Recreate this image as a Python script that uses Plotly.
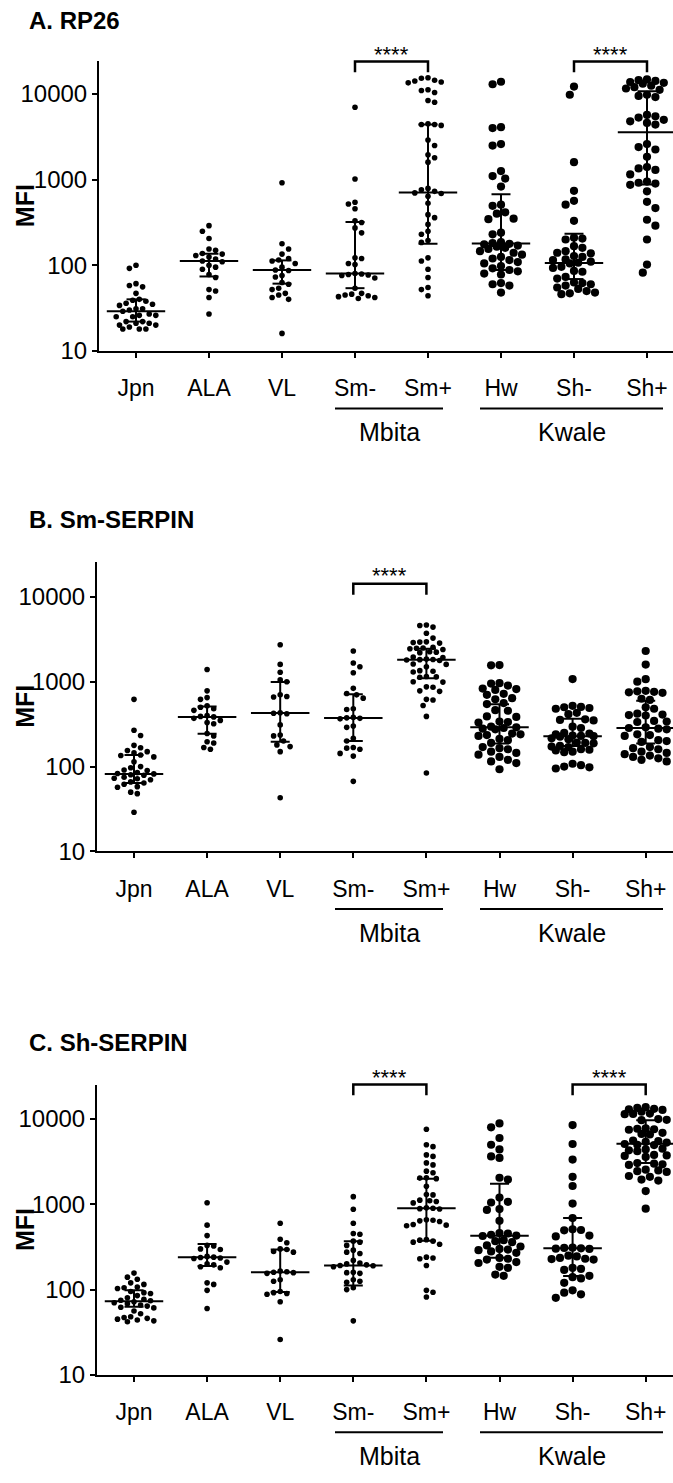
import numpy as np
import plotly.graph_objects as go

W, H = 673, 1483
FONT = "Liberation Sans, Arial, sans-serif"

categories = ["Jpn", "ALA", "VL", "Sm-", "Sm+", "Hw", "Sh-", "Sh+"]
panel_titles = ["A. RP26", "B. Sm-SERPIN", "C. Sh-SERPIN"]
ytick_vals = [10, 100, 1000, 10000]
ytick_text = ["10", "100", "1000", "10000"]

# ---------------- Panel A: RP26 ----------------
a_jpn = [100, 92, 61, 58, 56, 47, 40, 39, 38, 36, 35, 34, 31, 31, 30, 29, 27, 26, 26, 25, 25, 22, 22, 21, 21, 20, 20, 19, 18, 18, 18]
a_ala = [290, 250, 205, 155, 150, 137, 135, 130, 125, 118, 112, 110, 100, 95, 90, 78, 72, 52, 50, 42, 27]
a_vl = [920, 178, 155, 135, 120, 115, 112, 105, 95, 88, 87, 76, 73, 63, 60, 54, 52, 47, 45, 42, 40, 16]
a_smn = [7000, 1017, 545, 520, 457, 330, 316, 273, 239, 122, 120, 105, 102, 80, 79, 78, 77, 76, 71, 54, 47, 46, 45, 44, 43, 42, 41]
a_smp = [15500, 15300, 14500, 14200, 13800, 13500, 11200, 11000, 10400, 8400, 8000, 4500, 4400, 4400, 4300,
         2900, 2500, 1950, 1800, 1600, 790, 760, 730, 700, 690, 640, 530, 390, 360, 300, 250, 230, 195, 185,
         122, 112, 90, 72, 55, 52, 44]
a_hw = [13900, 13000, 4100, 4000, 2600, 2500, 1260, 1100, 1030, 830, 510, 495, 415, 400, 350, 345, 240, 230,
        186, 182, 178, 175, 170, 165, 160, 155, 146, 140, 133, 125, 120, 115, 109, 105, 98, 92, 88, 85, 80, 78,
        62, 60, 58, 48]
a_shn = [12200, 9800, 1600, 740, 565, 510, 330, 210, 205, 200, 167, 160, 146, 140, 138, 128, 125, 117, 115, 110,
         107, 105, 96, 93, 86, 84, 73, 70, 63, 62, 60, 58, 55, 53, 50, 48, 47, 46]
a_shp = [14800, 14500, 14200, 13800, 13500, 13200, 12500, 12000, 11600, 11200, 9800, 9500, 9200, 5700, 5500, 5300,
         5000, 4800, 4600, 4400, 2600, 2400, 2250, 1850, 1400, 1350, 1300, 1150, 950, 920, 900, 870, 730, 550, 465,
         340, 290, 200, 102, 82]
a_median = [29, 112, 88, 80, 706, 180, 106, 3570]
a_q1 = [22, 74, 61, 54, 178, 88, 69, 880]
a_q3 = [40, 136, 114, 320, 4400, 676, 234, 10750]

# ---------------- Panel B: Sm-SERPIN ----------------
b_jpn = [620, 268, 232, 178, 167, 155, 150, 145, 137, 135, 130, 114, 100, 97, 91, 90, 85, 83, 82, 80, 79, 75, 73,
         72, 70, 66, 64, 62, 58, 57, 50, 48, 29]
b_ala = [1390, 780, 650, 620, 520, 500, 480, 460, 400, 390, 385, 370, 350, 330, 320, 245, 230, 196, 190, 168, 160]
b_vl = [2730, 1600, 1290, 1050, 1000, 700, 670, 660, 430, 425, 420, 310, 235, 230, 200, 180, 172, 150, 43]
b_smn = [2300, 1660, 1500, 1275, 835, 725, 700, 640, 480, 470, 380, 375, 370, 365, 300, 290, 215, 200, 168, 165,
         160, 143, 133, 67]
b_smp = [4650, 4600, 4400, 3730, 3265, 2950, 2930, 2900, 2850, 2550, 2500, 2480, 2450, 2400, 2250, 2230, 2200, 1950,
         1930, 1850, 1830, 1820, 1800, 1780, 1620, 1600, 1500, 1350, 1330, 1300, 1150, 1140, 1130, 1000, 990, 870,
         860, 780, 770, 620, 610, 525, 390, 84]
b_hw = [1570, 1560, 960, 950, 900, 830, 820, 800, 720, 700, 640, 620, 560, 545, 462, 455, 390, 385, 340, 335, 330,
        295, 290, 285, 280, 275, 245, 240, 235, 230, 212, 205, 190, 170, 165, 160, 150, 145, 138, 130, 120, 115,
        110, 93]
b_shn = [1075, 520, 505, 500, 490, 480, 430, 415, 360, 355, 350, 295, 285, 250, 245, 240, 232, 230, 228, 225, 215,
         210, 192, 190, 188, 175, 172, 170, 160, 158, 155, 150, 148, 108, 104, 100, 98, 95]
b_shp = [2300, 1590, 1070, 1000, 780, 770, 760, 750, 740, 630, 610, 500, 480, 420, 410, 405, 400, 345, 340, 335,
         290, 285, 280, 275, 240, 235, 230, 205, 200, 195, 170, 165, 160, 150, 145, 140, 135, 130, 125, 120, 115]
b_median = [82, 384, 427, 373, 1820, 290, 228, 285]
b_q1 = [64, 243, 196, 200, 1100, 187, 175, 187]
b_q3 = [137, 511, 990, 711, 2450, 543, 365, 596]

# ---------------- Panel C: Sh-SERPIN ----------------
c_jpn = [156, 140, 132, 120, 115, 107, 105, 103, 95, 92, 90, 85, 80, 77, 75, 74, 72, 70, 68, 66, 64, 62, 61, 56,
         52, 48, 47, 46, 45, 44, 43, 42]
c_ala = [1045, 570, 430, 330, 325, 300, 295, 245, 240, 238, 235, 232, 210, 200, 195, 185, 180, 120, 115, 98, 60]
c_vl = [600, 390, 355, 300, 295, 280, 275, 165, 162, 160, 158, 155, 130, 125, 95, 92, 90, 88, 72, 26]
c_smn = [1230, 875, 600, 455, 445, 370, 360, 330, 290, 275, 265, 220, 205, 200, 195, 192, 190, 185, 160, 158, 155,
         130, 125, 122, 105, 100, 43]
c_smp = [7600, 5000, 4750, 3800, 3650, 3060, 2900, 2450, 2350, 2050, 2030, 2000, 1630, 1300, 1290, 1120, 1100,
         1080, 1040, 910, 900, 890, 880, 660, 650, 640, 630, 580, 570, 560, 385, 380, 370, 360, 340, 240, 235, 230,
         192, 98, 93, 82]
c_hw = [8900, 8000, 6000, 5000, 4400, 3650, 3500, 2050, 1950, 1200, 1070, 1050, 880, 860, 640, 460, 455, 440, 430,
        425, 380, 370, 360, 330, 320, 300, 295, 290, 280, 270, 235, 230, 225, 210, 205, 185, 180, 150, 145]
c_shn = [8500, 5100, 3350, 2100, 1640, 1020, 690, 510, 500, 495, 430, 420, 310, 308, 305, 302, 300, 250, 245, 235,
         230, 228, 225, 180, 175, 170, 145, 140, 135, 120, 98, 92, 88, 80]
c_shp = [13800, 13500, 13200, 13000, 12800, 12200, 11600, 11500, 11400, 10000, 9800, 9700, 7800, 7700, 7600, 7500,
         6900, 6700, 6600, 5600, 5500, 5400, 5300, 5100, 5000, 4950, 4500, 4400, 4300, 4200, 3800, 3750, 3700, 3600,
         3050, 3000, 2950, 2900, 2550, 2500, 2450, 2400, 2150, 2100, 1950, 1900, 1430, 890]
c_median = [73, 240, 160, 192, 897, 428, 305, 5120]
c_q1 = [63, 189, 94, 112, 375, 236, 144, 3050]
c_q3 = [98, 343, 296, 368, 1990, 1740, 689, 9700]

panels = [
    dict(groups=[a_jpn, a_ala, a_vl, a_smn, a_smp, a_hw, a_shn, a_shp], med=a_median, q1=a_q1, q3=a_q3,
         sig=[(3, 4), (6, 7)]),
    dict(groups=[b_jpn, b_ala, b_vl, b_smn, b_smp, b_hw, b_shn, b_shp], med=b_median, q1=b_q1, q3=b_q3,
         sig=[(3, 4)]),
    dict(groups=[c_jpn, c_ala, c_vl, c_smn, c_smp, c_hw, c_shn, c_shp], med=c_median, q1=c_q1, q3=c_q3,
         sig=[(3, 4), (6, 7)]),
]

# ---------------- layout geometry (pixels) ----------------
geo = [
    dict(x0=99, top=62, bottom=354, ytop=4.38, jpn=136, step=73.0, title_y=20.5, star_y=55, br_y=62),
    dict(x0=97, top=567, bottom=859, ytop=4.41, jpn=134, step=73.1, title_y=524, star_y=581, br_y=589),
    dict(x0=97, top=1095, bottom=1387, ytop=4.395, jpn=134, step=73.1, title_y=1052, star_y=1087, br_y=1094),
]
group_lines = [("Mbita", 335, 443), ("Kwale", 480, 663)]
SMALL_D, LARGE_D = 5.6, 8.2
SMALL_SP, LARGE_SP = 6.6, 8.4
MAX_HALF = 21.0


def py(px):
    return 1 - px / H


def swarm(vals, dec_px, cat_px, spacing, maxw):
    ys = np.log10(np.asarray(vals, float)) * dec_px
    order = np.argsort(-ys)
    placed = []
    offs = np.zeros(len(ys))
    step = spacing / 2.0
    kmax = int(maxw / step)
    for n, i in enumerate(order):
        y = ys[i]
        cands = [0.0]
        for k in range(1, kmax + 1):
            if n % 2 == 0:
                cands += [k * step, -k * step]
            else:
                cands += [-k * step, k * step]
        best, bestd = None, -1.0
        for c in cands:
            d = min([np.hypot(c - qx, y - qy) for qx, qy in placed] + [1e9])
            if d >= spacing:
                best = c
                break
            if d > bestd + 1e-9:
                best, bestd = c, d
        placed.append((best, y))
        offs[i] = best / cat_px
    return offs


fig = go.Figure()
layout = dict(width=W, height=H, margin=dict(l=0, r=0, t=0, b=0), plot_bgcolor="white",
              paper_bgcolor="white", showlegend=False, font=dict(family=FONT, color="black"))
shapes, annotations = [], []

for p, (pan, g) in enumerate(zip(panels, geo)):
    sfx = "" if p == 0 else str(p + 1)
    xa, ya = "x" + sfx, "y" + sfx
    dec_px = (g["bottom"] - g["top"]) / (g["ytop"] - 1)
    xmin = (g["x0"] - g["jpn"]) / g["step"]
    xmax = (W - g["jpn"]) / g["step"]
    layout["xaxis" + sfx] = dict(
        domain=[g["x0"] / W, 1], range=[xmin, xmax], anchor=ya, tickmode="array",
        tickvals=list(range(len(categories))), ticktext=categories, ticks="outside", ticklen=5, tickwidth=2,
        tickcolor="black", showline=True, linecolor="black", linewidth=2, showgrid=False, zeroline=False,
        tickfont=dict(family=FONT, size=23, color="black"), ticklabelstandoff=11, fixedrange=True)
    layout["yaxis" + sfx] = dict(
        domain=[py(g["bottom"]), py(g["top"])], type="log", range=[1, g["ytop"]], anchor=xa,
        tickmode="array", tickvals=ytick_vals, ticktext=ytick_text, ticks="outside", ticklen=5, tickwidth=2,
        tickcolor="black", showline=True, linecolor="black", linewidth=2, showgrid=False, zeroline=False,
        tickfont=dict(family=FONT, size=24, color="black"), fixedrange=True)

    # dots
    for i, vals in enumerate(pan["groups"]):
        big = i >= 5
        offs = swarm(vals, dec_px, g["step"], LARGE_SP if big else SMALL_SP, MAX_HALF)
        fig.add_trace(go.Scatter(
            x=i + offs, y=vals, mode="markers", xaxis=xa, yaxis=ya,
            marker=dict(color="black", size=LARGE_D if big else SMALL_D, line=dict(width=0)),
            hoverinfo="skip"))

    # median and interquartile range
    lx, ly = [], []
    mw, cw = 0.40, 0.13
    for i in range(len(categories)):
        m, lo, hi = pan["med"][i], pan["q1"][i], pan["q3"][i]
        lx += [i - mw, i + mw, None, i, i, None, i - cw, i + cw, None, i - cw, i + cw, None]
        ly += [m, m, None, lo, hi, None, lo, lo, None, hi, hi, None]
    fig.add_trace(go.Scatter(x=lx, y=ly, mode="lines", xaxis=xa, yaxis=ya,
                             line=dict(color="black", width=2), hoverinfo="skip"))

    # significance brackets
    for (a, b) in pan["sig"]:
        yb, yl = py(g["br_y"]), py(g["br_y"] + 11)
        shapes.append(dict(type="path", xref=xa, yref="paper",
                           path=f"M {a} {yl} L {a} {yb} L {b} {yb} L {b} {yl}",
                           line=dict(color="black", width=2.5)))
        annotations.append(dict(x=(a + b) / 2, y=py(g["star_y"]), xref=xa, yref="paper", text="****",
                                showarrow=False, font=dict(family=FONT, size=22, color="black"),
                                xanchor="center", yanchor="middle"))

    # site group lines and labels
    for name, x0p, x1p in group_lines:
        gx0 = (x0p - g["jpn"]) / g["step"]
        gx1 = (x1p - g["jpn"]) / g["step"]
        yl = py(g["bottom"] + 58)
        shapes.append(dict(type="line", xref=xa, yref="paper", x0=gx0, x1=gx1, y0=yl, y1=yl,
                           line=dict(color="black", width=2)))
        annotations.append(dict(x=(gx0 + gx1) / 2, y=py(g["bottom"] + 82), xref=xa, yref="paper", text=name,
                                showarrow=False, font=dict(family=FONT, size=25, color="black"),
                                xanchor="center", yanchor="middle"))

    # panel title and y-axis title
    annotations.append(dict(x=27 / W, y=py(g["title_y"]), xref="paper", yref="paper",
                            text="<b>" + panel_titles[p] + "</b>", showarrow=False,
                            font=dict(family=FONT, size=24, color="black"), xanchor="left", yanchor="middle"))
    annotations.append(dict(x=25 / W, y=py((g["top"] + g["bottom"]) / 2), xref="paper", yref="paper",
                            text="<b>MFI</b>", textangle=-90, showarrow=False,
                            font=dict(family=FONT, size=25, color="black"), xanchor="center", yanchor="middle"))

layout["shapes"] = shapes
layout["annotations"] = annotations
fig.update_layout(**layout)
fig.write_html("out.html")
